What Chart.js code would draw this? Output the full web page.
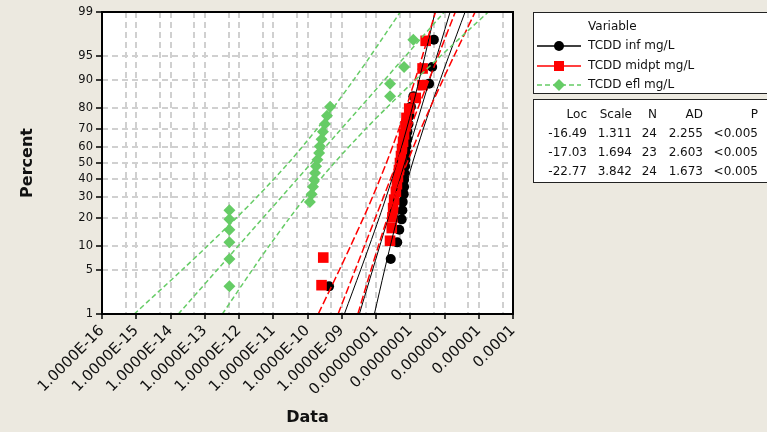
<!DOCTYPE html>
<html>
<head>
<meta charset="utf-8">
<script src="https://cdn.jsdelivr.net/npm/chart.js@4.4.1/dist/chart.umd.min.js"></script>
<style>
  html, body { margin: 0; padding: 0; background: #ECE9E0; }
  #wrap { position: relative; width: 767px; height: 432px; overflow: hidden; font-family: 'DejaVu Sans', sans-serif; color: #111; }
  #plot { position: absolute; left: 0; top: 0; }
  .box { position: absolute; background: #fff; border: 1.5px solid #222; box-sizing: border-box; }
  .txt { position: absolute; font-size: 12px; line-height: 14px; white-space: nowrap; }
  .sym { position: absolute; }
</style>
</head>
<body>
<div id="wrap">
  <canvas id="plot" width="767" height="432"></canvas>
  <div class="box" style="left:533px; top:12px; width:240px; height:82px;"></div>
  <div class="box" style="left:533px; top:99px; width:240px; height:84px;"></div>
  <div id="legend"></div>
</div>
<script>
// axis ticks
const xDecades = [-16, -15, -14, -13, -12, -11, -10, -9, -8, -7, -6, -5, -4];
const xTickLabels = ['1.0000E-16', '1.0000E-15', '1.0000E-14', '1.0000E-13', '1.0000E-12', '1.0000E-11',
    '1.0000E-10', '1.0000E-09', '0.00000001', '0.0000001', '0.000001', '0.00001', '0.0001'];
const yTickPct = [1, 5, 10, 20, 30, 40, 50, 60, 70, 80, 90, 95, 99];

// plotting positions (percent)
const pct24 = [2.87, 6.97, 11.07, 15.16, 19.26, 23.36, 27.46, 31.56, 35.66, 39.75, 43.85, 47.95,
    52.05, 56.15, 60.25, 64.34, 68.44, 72.54, 76.64, 80.74, 84.84, 88.93, 93.03, 97.13];
const pct23 = [2.99, 7.26, 11.54, 15.81, 20.09, 24.36, 28.63, 32.91, 37.18, 41.45, 45.73, 50.00,
    54.27, 58.55, 62.82, 67.09, 71.37, 75.64, 79.91, 84.19, 88.46, 92.74, 97.01];

// data values, log10(mg/L)
const infLog = [-9.37, -7.57, -7.38, -7.32, -7.25, -7.23, -7.22, -7.19, -7.18, -7.18, -7.17, -7.15,
    -7.14, -7.12, -7.11, -7.09, -7.08, -7.05, -7.02, -6.98, -6.91, -6.45, -6.36, -6.31];
const midLog = [-9.59, -9.54, -7.59, -7.54, -7.52, -7.50, -7.47, -7.42, -7.39, -7.36, -7.33, -7.30,
    -7.27, -7.24, -7.21, -7.18, -7.14, -7.11, -7.03, -6.84, -6.64, -6.64, -6.55];
const eflLog = [-12.28, -12.28, -12.28, -12.28, -12.28, -12.28, -9.93, -9.88, -9.84, -9.81, -9.78, -9.75,
    -9.71, -9.66, -9.64, -9.59, -9.55, -9.49, -9.43, -9.34, -7.59, -7.59, -7.18, -6.91];

// fitted lines and 95% bands
const fitPct = [1, 99];
const infFit = [-8.486, -5.837];
const midFit = [-9.107, -5.685];
const eflFit = [-13.770, -6.007];
const bandPct = [1, 5, 10, 20, 30, 50, 70, 80, 90, 95, 99];
const infLo = [-8.924, -8.447, -8.199, -7.906, -7.703, -7.389, -7.106, -6.947, -6.739, -6.574, -6.276];
const infHi = [-8.047, -7.749, -7.584, -7.376, -7.217, -6.934, -6.620, -6.417, -6.124, -5.876, -5.399];
const midLo = [-9.686, -9.067, -8.745, -8.365, -8.102, -7.697, -7.331, -7.127, -6.859, -6.647, -6.263];
const midHi = [-8.529, -8.145, -7.933, -7.665, -7.461, -7.095, -6.690, -6.427, -6.047, -5.725, -5.106];
const eflLo = [-15.056, -13.658, -12.928, -12.070, -11.476, -10.556, -9.726, -9.261, -8.651, -8.168, -7.292];
const eflHi = [-12.485, -11.610, -11.126, -10.516, -10.052, -9.221, -8.302, -7.708, -6.850, -6.120, -4.722];

// legend / stats table
const seriesNames = ['TCDD inf mg/L', 'TCDD midpt mg/L', 'TCDD efl mg/L'];
const statLoc = [-16.49, -17.03, -22.77];
const statScale = [1.311, 1.694, 3.842];
const statN = [24, 23, 24];
const statAD = [2.255, 2.603, 1.673];
const statP = ['<0.005', '<0.005', '<0.005'];

const BLACK = '#000000', RED = '#FF0000', GREEN = '#66CC66';

function probit(p) {
    const a = [-3.969683028665376e+01, 2.209460984245205e+02, -2.759285104469687e+02, 1.383577518672690e+02, -3.066479806614716e+01, 2.506628277459239e+00];
    const b = [-5.447609879822406e+01, 1.615858368580409e+02, -1.556989798598866e+02, 6.680131188771972e+01, -1.328068155288572e+01];
    const c = [-7.784894002430293e-03, -3.223964580411365e-01, -2.400758277161838e+00, -2.549732539343734e+00, 4.374664141464968e+00, 2.938163982698783e+00];
    const d = [7.784695709041462e-03, 3.224671290700398e-01, 2.445134137142996e+00, 3.754408661907416e+00];
    let q, r;
    if (p < 0.02425) {
        q = Math.sqrt(-2 * Math.log(p));
        return (((((c[0] * q + c[1]) * q + c[2]) * q + c[3]) * q + c[4]) * q + c[5]) / ((((d[0] * q + d[1]) * q + d[2]) * q + d[3]) * q + 1);
    }
    if (p > 1 - 0.02425) return -probit(1 - p);
    q = p - 0.5; r = q * q;
    return (((((a[0] * r + a[1]) * r + a[2]) * r + a[3]) * r + a[4]) * r + a[5]) * q / (((((b[0] * r + b[1]) * r + b[2]) * r + b[3]) * r + b[4]) * r + 1);
}

function toPoints(xs, ps) {
    return xs.map((x, i) => ({ x: x, y: probit(ps[i] / 100) }));
}

function pointSet(xs, ps, color, style, radius, order) {
    return {
        data: toPoints(xs, ps), showLine: false, order: order,
        pointStyle: style, pointRadius: radius, pointHoverRadius: radius,
        backgroundColor: color, borderColor: color, borderWidth: 0
    };
}

function lineSet(xs, ps, color, dash, width, order) {
    return {
        data: toPoints(xs, ps), showLine: true, order: order, tension: 0.3,
        pointRadius: 0, borderColor: color, borderWidth: width, borderDash: dash, fill: false
    };
}

const plotFrame = {
    id: 'plotFrame',
    beforeDraw(chart) {
        const { ctx, chartArea: a } = chart;
        ctx.save();
        ctx.fillStyle = '#fff';
        ctx.fillRect(a.left, a.top, a.right - a.left, a.bottom - a.top);
        ctx.restore();
    },
    afterDraw(chart) {
        const { ctx, chartArea: a } = chart;
        ctx.save();
        ctx.strokeStyle = '#000';
        ctx.lineWidth = 2;
        ctx.strokeRect(a.left, a.top, a.right - a.left, a.bottom - a.top);
        ctx.restore();
    }
};

const redDash = [8, 3], greenDash = [5, 3];
const datasets = [
    pointSet(infLog, pct24, BLACK, 'circle', 5, 9),
    pointSet(midLog, pct23, RED, 'rect', 7.5, 8),
    pointSet(eflLog, pct24, GREEN, 'rectRot', 6, 7),
    lineSet(infFit, fitPct, BLACK, [], 1, 3),
    lineSet(infLo, bandPct, BLACK, [], 1, 3),
    lineSet(infHi, bandPct, BLACK, [], 1, 3),
    lineSet(midFit, fitPct, RED, redDash, 1.5, 2),
    lineSet(midLo, bandPct, RED, redDash, 1.5, 2),
    lineSet(midHi, bandPct, RED, redDash, 1.5, 2),
    lineSet(eflFit, fitPct, GREEN, greenDash, 1.5, 1),
    lineSet(eflLo, bandPct, GREEN, greenDash, 1.5, 1),
    lineSet(eflHi, bandPct, GREEN, greenDash, 1.5, 1)
];

new Chart(document.getElementById('plot').getContext('2d'), {
    type: 'scatter',
    data: { datasets: datasets },
    options: {
        responsive: false,
        animation: false,
        devicePixelRatio: 1,
        layout: { padding: { left: 0, top: 12, right: 254, bottom: 0 } },
        plugins: { legend: { display: false }, tooltip: { enabled: false } },
        scales: {
            x: {
                type: 'linear', min: -16, max: -4,
                afterBuildTicks: scale => {
                    const ticks = [];
                    xDecades.forEach(k => {
                        ticks.push({ value: k });
                        if (k < -4) ticks.push({ value: k + Math.log10(5) });
                    });
                    scale.ticks = ticks;
                },
                afterFit: scale => { scale.height = 118; },
                ticks: {
                    autoSkip: false, minRotation: 45, maxRotation: 45, padding: 3,
                    color: '#111', font: { family: 'DejaVu Sans', size: 15 },
                    callback: v => Number.isInteger(v) ? xTickLabels[v + 16] : ''
                },
                grid: {
                    color: '#D0D0D0', lineWidth: 2, tickLength: 5, tickWidth: 1.5,
                    tickColor: c => (c.tick && Number.isInteger(c.tick.value)) ? '#000' : 'rgba(0,0,0,0)'
                },
                border: { display: false, dash: [6, 4] },
                title: {
                    display: true, text: 'Data', color: '#111',
                    font: { family: 'DejaVu Sans', size: 16, weight: 'bold' },
                    padding: { top: 0, bottom: 5 }
                }
            },
            y: {
                type: 'linear', min: probit(0.01), max: probit(0.99),
                afterBuildTicks: scale => {
                    scale.ticks = yTickPct.map(p => ({ value: probit(p / 100) }));
                },
                afterFit: scale => { scale.width = 102; },
                ticks: {
                    autoSkip: false, padding: 3, color: '#111',
                    font: { family: 'DejaVu Sans', size: 11.5 },
                    callback: (v, i) => String(yTickPct[i])
                },
                grid: { color: '#D0D0D0', lineWidth: 2, tickLength: 6, tickWidth: 1.5, tickColor: '#000' },
                border: { display: false, dash: [6, 4] },
                title: {
                    display: true, text: 'Percent', color: '#111',
                    font: { family: 'DejaVu Sans', size: 16, weight: 'bold' },
                    padding: { top: 18, bottom: 0 }
                }
            }
        }
    },
    plugins: [plotFrame]
});

// legend and stats table
const legend = document.getElementById('legend');
function addText(text, left, centerY, right) {
    const el = document.createElement('div');
    el.className = 'txt';
    el.textContent = text;
    el.style.top = (centerY - 7) + 'px';
    if (right !== undefined) el.style.right = (767 - right) + 'px';
    else el.style.left = left + 'px';
    legend.appendChild(el);
}
function symbolSvg(color, kind, dashed) {
    let mark;
    if (kind === 'circle') mark = `<circle cx="22" cy="7" r="5" fill="${color}"/>`;
    else if (kind === 'rect') mark = `<rect x="17" y="2" width="10" height="10" fill="${color}"/>`;
    else mark = `<polygon points="22,1 28,7 22,13 16,7" fill="${color}"/>`;
    const dash = dashed ? 'stroke-dasharray="5,3"' : '';
    return `<svg width="44" height="14"><line x1="0" y1="7" x2="44" y2="7" stroke="${color}" stroke-width="1.5" ${dash}/>${mark}</svg>`;
}
addText('Variable', 588, 26);
const legendRows = [45, 64.5, 84];
const legendColors = [BLACK, RED, GREEN];
const legendKinds = ['circle', 'rect', 'rectRot'];
seriesNames.forEach((name, i) => {
    const s = document.createElement('div');
    s.className = 'sym';
    s.style.left = '537px';
    s.style.top = (legendRows[i] - 7) + 'px';
    s.innerHTML = symbolSvg(legendColors[i], legendKinds[i], i === 2);
    legend.appendChild(s);
    addText(name, 588, legendRows[i]);
});

const colRight = [587, 632, 657, 703, 758];
const headY = 113.5;
['Loc', 'Scale', 'N', 'AD', 'P'].forEach((h, j) => addText(h, 0, headY, colRight[j]));
const rowY = [132.5, 151.5, 171];
statLoc.forEach((v, i) => {
    addText(v.toFixed(2), 0, rowY[i], colRight[0]);
    addText(statScale[i].toFixed(3), 0, rowY[i], colRight[1]);
    addText(String(statN[i]), 0, rowY[i], colRight[2]);
    addText(statAD[i].toFixed(3), 0, rowY[i], colRight[3]);
    addText(statP[i], 0, rowY[i], colRight[4]);
});
</script>
</body>
</html>
